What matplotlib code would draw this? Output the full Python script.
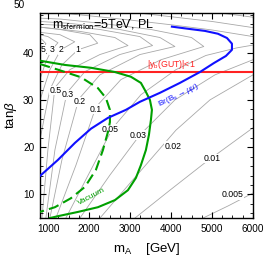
import numpy as np
import matplotlib.pyplot as plt
from matplotlib.ticker import MultipleLocator

plt.rcParams['font.family'] = ['Liberation Sans', 'DejaVu Sans']
plt.rcParams['mathtext.fontset'] = 'custom'
plt.rcParams['mathtext.rm'] = 'Liberation Sans'
plt.rcParams['mathtext.it'] = 'Liberation Sans:italic'

# grey contour lines, (mA, tanb) points
contours = {
    "0.005": [(4780, 5), (5400, 7.6), (6000, 10.3)],
    "0.01": [(3119, 5), (3973, 10.9), (4828, 16.7), (6000, 24.1)],
    "0.02": [(2265, 5), (3070, 13.1), (4120, 23.6), (4950, 30), (6000, 35.3)],
    "0.03": [(1776, 5), (2509, 14.1), (3241, 22.6), (4095, 30), (5072, 35.3), (6000, 38.5)],
    "0.05": [(1434, 5), (2045, 15.2), (2580, 24.1), (3265, 31.1), (4120, 36.4), (4850, 39.4), (5600, 41.0), (6000, 41.6)],
    "0.1": [(1190, 5), (1680, 16.2), (2167, 28.5), (2777, 34.3), (3754, 38.5), (4800, 41.3), (4500, 43.2), (3510, 44.9), (2290, 46.2), (1310, 47.1), (800, 47.3)],
    "0.2": [(1044, 5), (1337, 17.3), (1751, 30.2), (2265, 35.3), (3241, 39.6), (4095, 41.3), (3730, 43.2), (2750, 44.9), (1530, 46.2), (800, 46.6)],
    "0.3": [(946, 5), (1166, 19.4), (1459, 31.5), (1899, 36.0), (2750, 39.6), (3550, 41.5), (3240, 43.4), (2265, 44.9), (1290, 45.8), (800, 46.0)],
    "0.5": [(850, 5), (995, 19.4), (1166, 32.6), (1530, 36.4), (2265, 39.6), (2950, 41.5), (2630, 43.2), (1780, 44.5), (800, 45.4)],
    "1": [(800, 21.5), (1044, 32.2), (1337, 37.4), (1728, 40.6), (2210, 42.0), (2020, 43.8), (1290, 44.9), (800, 45.4)],
    "2": [(800, 29.9), (1044, 36.4), (1310, 40.6), (1650, 42.3), (1290, 43.8), (800, 44.3)],
    "3": [(800, 34.3), (946, 38.1), (1090, 40.6), (1240, 42.1), (995, 43.4), (800, 43.8)],
    "5": [(800, 39.2), (873, 40.6), (946, 41.9), (850, 42.8), (800, 43.0)],
}
# upper branches that come back in from the right edge
upper = {
    "0.05": [(6000, 43.4), (5000, 44.8), (4000, 45.9), (3000, 46.9), (2000, 47.8), (1300, 48.4)],
    "0.03": [(6000, 45.3), (5000, 46.6), (4000, 47.6), (3200, 48.4)],
    "0.02": [(6000, 47.5), (5200, 48.4)],
}
# label positions on the contours
label_pos = {
    "5": (870, 40.6), "3": (1100, 40.6), "2": (1320, 40.6), "1": (1720, 40.6),
    "0.5": (1180, 32.0), "0.3": (1470, 31.1), "0.2": (1780, 29.6), "0.1": (2160, 28.0),
    "0.05": (2520, 23.8), "0.03": (3190, 22.5), "0.02": (4040, 20.2), "0.01": (5000, 17.6),
    "0.005": (5510, 9.9),
}

# Br(Bs -> mu mu) bound
br_mA = [800, 1239, 1654, 2045, 2460, 2899, 3241, 3729, 4217, 4706, 5047, 5340, 5487, 5487, 5365, 5145, 4828, 4462, 4022]
br_tb = [13.9, 17.3, 20.9, 23.9, 26.2, 27.9, 29.6, 31.5, 33.6, 35.9, 37.8, 39.3, 40.6, 41.9, 43.1, 44.0, 44.6, 45.0, 45.5]

# vacuum stability, solid and dashed
vac_mA = [800, 1410, 2045, 2631, 3021, 3265, 3387, 3485, 3534, 3510, 3461, 3387, 3265, 3143, 2948, 2631, 2216, 1728, 1239, 1044]
vac_tb = [38.3, 37.4, 36.8, 35.9, 34.9, 33.6, 31.7, 30.0, 27.9, 25.8, 22.6, 19.4, 16.2, 13.5, 10.9, 8.8, 7.3, 6.3, 5.4, 5.0]
vac2_mA = [800, 1239, 1801, 2216, 2411, 2509, 2509, 2460, 2338, 2167, 1899, 1557, 1166, 800]
vac2_tb = [37.6, 36.4, 34.8, 32.5, 30.4, 27.9, 25.3, 23.2, 19.4, 15.2, 11.6, 9.2, 7.3, 6.3]

yb_tb = 35.9

fig = plt.figure(figsize=(2.66, 2.59), dpi=100)
ax = fig.add_axes([0.150, 0.158, 0.801, 0.792])

for group in (contours, upper):
    for name, pts in group.items():
        pts = np.array(pts)
        ax.plot(pts[:, 0], pts[:, 1], color='#a8a8a8', lw=0.6, zorder=1)
for name, (x, y) in label_pos.items():
    ax.text(x, y, name, fontsize=6.3, ha='center', va='center', zorder=2,
            bbox=dict(boxstyle='square,pad=0.05', fc='white', ec='none'))

ax.axhline(yb_tb, color='#ff2222', lw=1.5, zorder=3)
ax.text(4000, yb_tb + 0.2, r'$|\mathrm{y}_\mathrm{b}\mathrm{(GUT)}|$<1', color='#ff2222',
        fontsize=6.3, ha='center', va='bottom', zorder=4)

ax.plot(br_mA, br_tb, color='#1010ff', lw=1.5, zorder=4)
ax.text(4180, 31.0, r'$\mathrm{Br(B}_\mathrm{s}\to\mu\mu)$', color='#1010ff', fontsize=6,
        rotation=26, ha='center', va='center', zorder=4)

ax.plot(vac_mA, vac_tb, color='#00a000', lw=1.5, zorder=3)
ax.plot(vac2_mA, vac2_tb, color='#00a000', lw=1.5, dashes=(5, 2.5), zorder=3)
ax.text(2050, 9.6, 'Vacuum', color='#00a000', fontsize=6, rotation=28,
        ha='center', va='center', zorder=4)

ax.text(1090, 46.0, r'm$_\mathrm{sfermion}$=5TeV, PL', fontsize=9, va='center',
        math_fontfamily='stixsans', zorder=5)

ax.set_xlim(800, 6000)
ax.set_ylim(5, 48.4)
ax.set_xticks([1000, 2000, 3000, 4000, 5000, 6000])
ax.set_yticks([10, 20, 30, 40])
ax.xaxis.set_minor_locator(MultipleLocator(250))
ax.yaxis.set_minor_locator(MultipleLocator(2))
ax.tick_params(which='both', direction='in', top=True, right=True, labelsize=7.2)
ax.tick_params(which='major', length=4, width=0.8, pad=4)
ax.tick_params(which='minor', length=2, width=0.6)
ax.text(-0.07, 50, '50', fontsize=7.2, ha='right', va='center',
        transform=ax.get_yaxis_transform(), clip_on=False)
for s in ax.spines.values():
    s.set_linewidth(1.0)

ax.set_xlabel(r'$\mathrm{m}_\mathrm{A}$    [GeV]', fontsize=9.5, labelpad=5)
ax.set_ylabel(r'tan$\beta$', fontsize=9.5, labelpad=3)

fig.savefig('out.png', dpi=100)
